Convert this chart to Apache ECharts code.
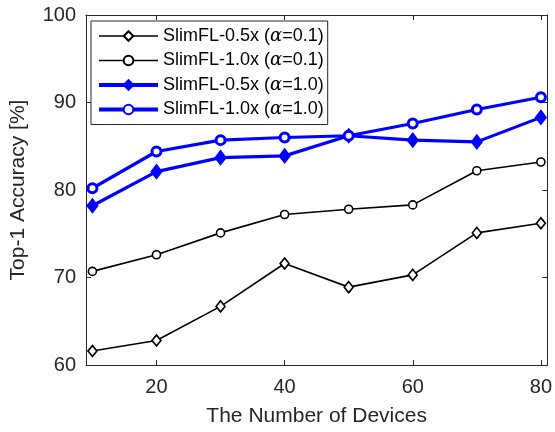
<!DOCTYPE html>
<html>
<head>
<meta charset="utf-8">
<script src="https://cdn.jsdelivr.net/npm/echarts@6/dist/echarts.min.js"></script>
<style>
  html, body { margin: 0; padding: 0; background: #fff; }
  #chart { width: 555px; height: 432px; }
</style>
</head>
<body>
<div id="chart"></div>
<script>
// Number of participating devices
const devices = [10, 20, 30, 40, 50, 60, 70, 80];

// Top-1 accuracy (%) for each SlimFL configuration
const slim05_a01 = [61.6, 62.8, 66.7, 71.6, 68.9, 70.3, 75.1, 76.2];
const slim10_a01 = [70.7, 72.6, 75.1, 77.2, 77.8, 78.3, 82.2, 83.2];
const slim05_a10 = [78.2, 82.1, 83.7, 83.9, 86.2, 85.7, 85.5, 88.3];
const slim10_a10 = [80.2, 84.4, 85.7, 86.0, 86.2, 87.6, 89.2, 90.6];

const xTicks = [20, 40, 60, 80];
const yTicks = [60, 70, 80, 90, 100];

const seriesNames = ['s05a01', 's10a01', 's05a10', 's10a10'];
const legendText = {
  s05a01: 'SlimFL-0.5x ({g|α}=0.1)',
  s10a01: 'SlimFL-1.0x ({g|α}=0.1)',
  s05a10: 'SlimFL-0.5x ({g|α}=1.0)',
  s10a10: 'SlimFL-1.0x ({g|α}=1.0)'
};

const FONT = "'Liberation Sans', Arial, Helvetica, sans-serif";
const AX = '#262626';
const BLUE = '#0000ff';

const pairs = arr => devices.map((d, i) => [d, arr[i]]);

const chart = echarts.init(document.getElementById('chart'), null, { renderer: 'canvas' });

const baseX = {
  type: 'value', min: 9, max: 81,
  splitLine: { show: false },
  axisLine: { show: true, onZero: false, lineStyle: { color: AX, width: 1 } },
  axisTick: { show: true, inside: true, length: 5, customValues: xTicks, lineStyle: { color: AX } },
  axisLabel: { customValues: xTicks, color: AX, fontSize: 20, fontFamily: FONT, margin: 12 }
};
const baseY = {
  type: 'value', min: 60, max: 100, interval: 10,
  splitLine: { show: false },
  axisLine: { show: true, onZero: false, lineStyle: { color: AX, width: 1 } },
  axisTick: { show: true, inside: true, length: 5, customValues: yTicks, lineStyle: { color: AX } },
  axisLabel: { customValues: yTicks, color: AX, fontSize: 20, fontFamily: FONT, margin: 10 }
};

chart.setOption({
  animation: false,
  backgroundColor: '#fff',
  grid: { left: 85, right: 6, top: 15, bottom: 65, containLabel: false },
  xAxis: [
    Object.assign({}, baseX, {
      position: 'bottom',
      name: 'The Number of Devices', nameLocation: 'middle', nameGap: 41,
      nameTextStyle: { color: AX, fontSize: 21, fontFamily: FONT }
    }),
    Object.assign({}, baseX, { position: 'top', axisLabel: { show: false } })
  ],
  yAxis: [
    Object.assign({}, baseY, {
      position: 'left',
      name: 'Top-1 Accuracy [%]', nameLocation: 'middle', nameGap: 57,
      nameTextStyle: { color: AX, fontSize: 21, fontFamily: FONT }
    }),
    Object.assign({}, baseY, { position: 'right', axisLabel: { show: false } })
  ],
  legend: {
    orient: 'vertical',
    left: 91, top: 21,
    data: [
      { name: 's05a01', lineStyle: { width: 1.6 } },
      { name: 's10a01', lineStyle: { width: 1.6 } },
      { name: 's05a10', lineStyle: { width: 4 } },
      { name: 's10a10', lineStyle: { width: 4 } }
    ],
    itemWidth: 59, itemHeight: 12, itemGap: 6.5,
    padding: [6, 4, 6, 6],
    backgroundColor: '#fff',
    borderColor: AX, borderWidth: 1, borderRadius: 0,
    formatter: name => legendText[name],
    textStyle: {
      color: '#000', fontSize: 18, lineHeight: 18, fontFamily: FONT,
      rich: { g: { fontSize: 18, lineHeight: 18, fontStyle: 'italic', fontFamily: "'DejaVu Serif', serif", color: '#000' } }
    }
  },
  series: [
    {
      name: 's05a01', type: 'line', data: pairs(slim05_a01),
      symbol: 'diamond', symbolSize: [9, 11],
      lineStyle: { color: '#000', width: 1.6 },
      itemStyle: { color: '#fff', borderColor: '#000', borderWidth: 1.6 },
      z: 2
    },
    {
      name: 's10a01', type: 'line', data: pairs(slim10_a01),
      symbol: 'circle', symbolSize: 8,
      lineStyle: { color: '#000', width: 1.6 },
      itemStyle: { color: '#fff', borderColor: '#000', borderWidth: 1.6 },
      z: 2
    },
    {
      name: 's05a10', type: 'line', data: pairs(slim05_a10),
      symbol: 'diamond', symbolSize: [10, 13],
      lineStyle: { color: BLUE, width: 3.2 },
      itemStyle: { color: BLUE, borderColor: BLUE, borderWidth: 2 },
      z: 3
    },
    {
      name: 's10a10', type: 'line', data: pairs(slim10_a10),
      symbol: 'circle', symbolSize: 9,
      lineStyle: { color: BLUE, width: 3.2 },
      itemStyle: { color: '#fff', borderColor: BLUE, borderWidth: 3 },
      z: 3
    }
  ]
});
</script>
</body>
</html>
